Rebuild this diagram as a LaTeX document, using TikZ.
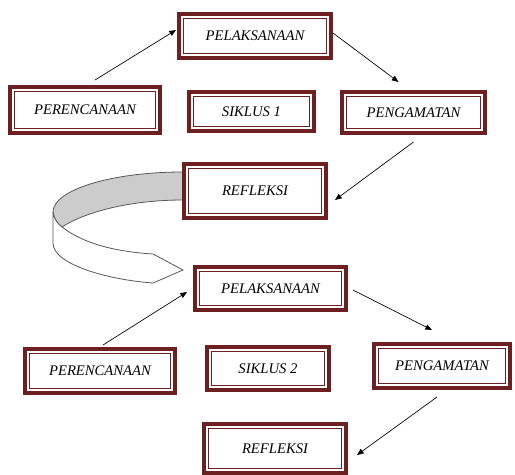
\documentclass[tikz,border=0pt]{standalone}
\usepackage{fontspec}
\setmainfont{Liberation Serif}
\usetikzlibrary{arrows.meta}
\definecolor{boxred}{RGB}{110,32,32}
\definecolor{bandgray}{RGB}{204,204,204}

\begin{document}
\begin{tikzpicture}[x=0.75pt, y=-0.75pt,
    stage/.style={draw=boxred, line width=3pt, fill=white, inner sep=0pt,
        font=\fontsize{11}{13}\selectfont\itshape,
        path picture={\draw[boxred, line width=0.7pt]
            ([shift={(3.2pt,-3.2pt)}]path picture bounding box.north west) rectangle
            ([shift={(-3.2pt,3.2pt)}]path picture bounding box.south east);}},
    arr/.style={-{Triangle[length=5pt,width=4pt]}, line width=0.5pt}]
    \useasboundingbox (0,0) rectangle (515,475);

    \filldraw[fill=bandgray, draw=black!65, line width=0.6pt]
        (183,172) .. controls (111,172) and (53,190) .. (53,212)
        .. controls (54,219) and (57,223) .. (62,227)
        .. controls (85,212) and (130,200) .. (183,200) -- cycle;
    \filldraw[fill=white, draw=black!65, line width=0.6pt]
        (53,212) -- (53,243)
        .. controls (53,265) and (110,280) .. (153,283)
        -- (183,270) -- (153,254)
        .. controls (120,252) and (85,245) .. (62,227)
        .. controls (57,223) and (54,219) .. (53,212);

    \node[stage, minimum width=114pt, minimum height=33pt] (pel1) at (255,36) {PELAKSANAAN};
    \node[stage, minimum width=112.5pt, minimum height=34.5pt] (per1) at (85,110) {PERENCANAAN};
    \node[stage, minimum width=93.75pt, minimum height=29.25pt] (sik1) at (251.5,111.5) {SIKLUS 1};
    \node[stage, minimum width=107.25pt, minimum height=30.75pt] (pen1) at (413.5,112.5) {PENGAMATAN};
    \node[stage, minimum width=106.5pt, minimum height=40.5pt] (ref1) at (255,191) {REFLEKSI};

    \node[stage, minimum width=113.25pt, minimum height=32.25pt] (pel2) at (270.5,288.5) {PELAKSANAAN};
    \node[stage, minimum width=112.5pt, minimum height=33pt] (per2) at (100,371) {PERENCANAAN};
    \node[stage, minimum width=91.5pt, minimum height=32.25pt] (sik2) at (268,368.5) {SIKLUS 2};
    \node[stage, minimum width=102pt, minimum height=33pt] (pen2) at (442,366) {PENGAMATAN};
    \node[stage, minimum width=106.5pt, minimum height=36.75pt] (ref2) at (275,448.5) {REFLEKSI};

    \draw[arr] ([shift={(10,-5)}]per1.north) -- ([shift={(-1,-6)}]pel1.west);
    \draw[arr] ([shift={(0,-3)}]pel1.east) -- ([shift={(-15,-8)}]pen1.north);
    \draw[arr] ([shift={(0,7)}]pen1.south) -- ([shift={(7,9)}]ref1.east);

    \draw[arr] ([shift={(3,-2)}]per2.north) -- ([shift={(-6,3.5)}]pel2.west);
    \draw[arr] ([shift={(5,1.5)}]pel2.east) -- ([shift={(-10,-12)}]pen2.north);
    \draw[arr] ([shift={(-5,7)}]pen2.south) -- ([shift={(9,6.5)}]ref2.east);
\end{tikzpicture}
\end{document}
